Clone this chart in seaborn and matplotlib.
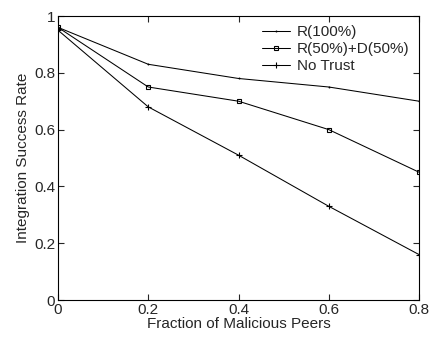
import matplotlib
matplotlib.use("Agg")
import matplotlib.pyplot as plt
import seaborn as sns
import pandas as pd

fraction = [0.0, 0.2, 0.4, 0.6, 0.8]
r100 = [0.96, 0.83, 0.78, 0.75, 0.70]
r50d50 = [0.96, 0.75, 0.70, 0.60, 0.45]
notrust = [0.95, 0.68, 0.51, 0.33, 0.16]
series_names = ["R(100%)", "R(50%)+D(50%)", "No Trust"]

sns.set_style("ticks")
plt.rcParams["font.family"] = ["Liberation Sans", "DejaVu Sans"]

df = pd.DataFrame({
    "x": fraction * 3,
    "y": r100 + r50d50 + notrust,
    "s": [series_names[0]] * 5 + [series_names[1]] * 5 + [series_names[2]] * 5,
})

fig = plt.figure(figsize=(4.32, 3.37), dpi=100)
ax = fig.add_axes([58 / 432, 37 / 337, 361 / 432, 284 / 337])
markers = {"R(100%)": ".", "R(50%)+D(50%)": "s", "No Trust": "+"}
sizes = {"R(100%)": 1.2, "R(50%)+D(50%)": 3, "No Trust": 4.5}
for name in series_names:
    sub = df[df["s"] == name]
    sns.lineplot(data=sub, x="x", y="y", ax=ax, color="black", lw=0.75,
                 marker=markers[name], markersize=sizes[name],
                 markerfacecolor="none" if name != "R(100%)" else "black",
                 markeredgecolor="black", markeredgewidth=0.8, label=name)

ax.set_xlim(0, 0.8)
ax.set_ylim(0, 1)
ax.set_xticks([0, 0.2, 0.4, 0.6, 0.8])
ax.set_xticklabels(["0", "0.2", "0.4", "0.6", "0.8"])
ax.set_yticks([0, 0.2, 0.4, 0.6, 0.8, 1])
ax.set_yticklabels(["0", "0.2", "0.4", "0.6", "0.8", "1"])
ax.tick_params(direction="in", top=True, right=True, labelsize=11, length=4, width=0.8, pad=2)
for sp in ax.spines.values():
    sp.set_linewidth(0.8)
    sp.set_color("black")
ax.set_xlabel("Fraction of Malicious Peers", fontsize=11, labelpad=0)
ax.set_ylabel("Integration Success Rate", fontsize=11, labelpad=3)
leg = ax.legend(loc="upper right", frameon=False, fontsize=11, handlelength=1.8,
                handletextpad=0.5, borderaxespad=0.2, labelspacing=0.2)
fig.savefig("out.png", dpi=100)
